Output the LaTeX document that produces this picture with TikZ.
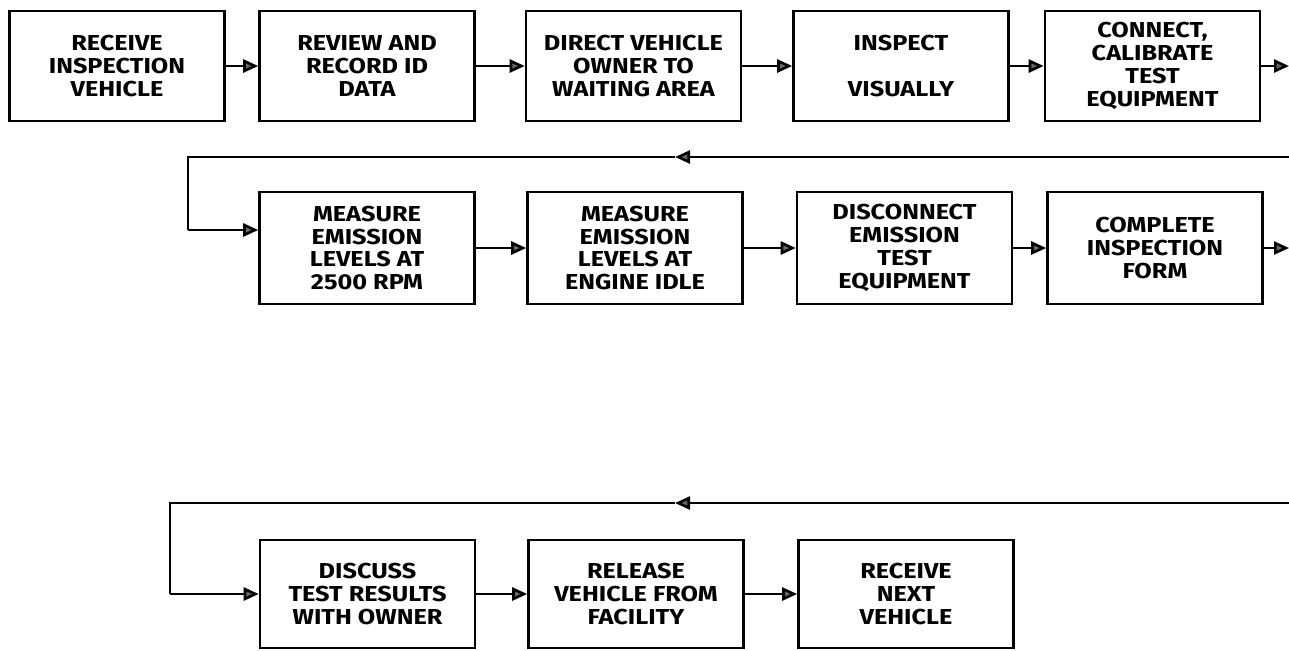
\documentclass[tikz,border=0pt]{standalone}
\usepackage{fontspec}
\setmainfont{Fira Sans}
\newfontfamily\boxfont[FakeStretch=1.17]{Fira Sans}
\usetikzlibrary{arrows.meta}
\begin{document}
\begin{tikzpicture}[x=0.5pt,y=-0.5pt,
  box/.style={draw=black, line width=1.3pt, minimum width=107.5pt, align=center,
    font=\boxfont\fontsize{10.8}{11.4}\selectfont\bfseries, inner sep=0pt},
  r1/.style={box, minimum height=55pt},
  r2/.style={box, minimum height=56pt},
  r3/.style={box, minimum height=54pt},
  flow/.style={line width=1.3pt, -{Triangle[length=7.5pt,width=6.5pt,fill=black!60]}},
  wire/.style={line width=1.3pt}]
\useasboundingbox (0,0) rectangle (1289,650);
% row 1
\node[r1] (a1) at (117,66)    {RECEIVE\\INSPECTION\\VEHICLE};
\node[r1] (b1) at (367,66)    {REVIEW AND\\RECORD ID\\DATA};
\node[r1] (c1) at (633.5,66)  {DIRECT VEHICLE\\OWNER TO\\WAITING AREA};
\node[r1] (d1) at (901,66)    {INSPECT\\[11.4pt]VISUALLY};
\node[r1] (e1) at (1152.5,66) {CONNECT,\\CALIBRATE\\TEST\\EQUIPMENT};
\coordinate (o1) at (1289,66);
\draw[flow] (a1) -- (b1);
\draw[flow] (b1) -- (c1);
\draw[flow] (c1) -- (d1);
\draw[flow] (d1) -- (e1);
\draw[flow] (e1) -- (o1);
% row 2
\node[r2] (b2) at (367,248)   {MEASURE\\EMISSION\\LEVELS AT\\2500 RPM};
\node[r2] (c2) at (635,248)   {MEASURE\\EMISSION\\LEVELS AT\\ENGINE IDLE};
\node[r2] (d2) at (904.5,248) {DISCONNECT\\EMISSION\\TEST\\EQUIPMENT};
\node[r2] (e2) at (1155,248)  {COMPLETE\\INSPECTION\\FORM};
\coordinate (o2) at (1289,248);
\coordinate (l2s) at (1289,157);
\coordinate (l2m) at (675,157);
\coordinate (l2c) at (188,157);
\coordinate (l2d) at (188,230);
\draw[flow] (l2s) -- (l2m);
\draw[wire] (l2m) -- (l2c) -- (l2d);
\draw[flow] (l2d) -- (l2d -| b2.west);
\draw[flow] (b2) -- (c2);
\draw[flow] (c2) -- (d2);
\draw[flow] (d2) -- (e2);
\draw[flow] (e2) -- (o2);
% row 3
\node[r3] (b3) at (367.5,594) {DISCUSS\\TEST RESULTS\\WITH OWNER};
\node[r3] (c3) at (636,594)   {RELEASE\\VEHICLE FROM\\FACILITY};
\node[r3] (d3) at (906,594)   {RECEIVE\\NEXT\\VEHICLE};
\coordinate (l3s) at (1289,503);
\coordinate (l3m) at (675,503);
\coordinate (l3c) at (170,503);
\coordinate (l3d) at (170,594);
\draw[flow] (l3s) -- (l3m);
\draw[wire] (l3m) -- (l3c) -- (l3d);
\draw[flow] (l3d) -- (b3);
\draw[flow] (b3) -- (c3);
\draw[flow] (c3) -- (d3);
\end{tikzpicture}
\end{document}
